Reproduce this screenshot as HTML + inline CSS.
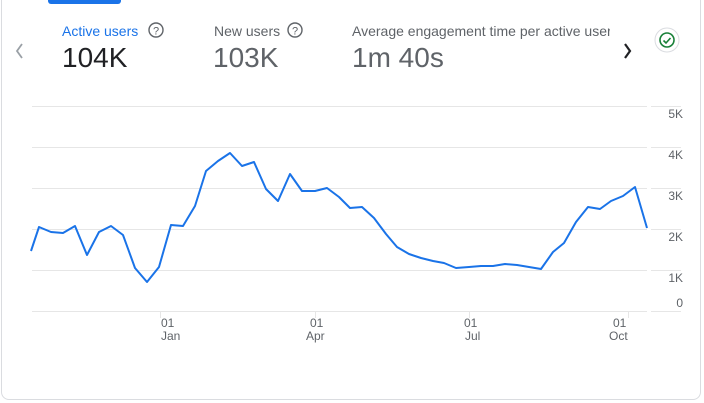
<!DOCTYPE html>
<html><head><style>
body{margin:0;width:704px;height:403px;background:#fff;font-family:"Liberation Sans",Arial,sans-serif;overflow:hidden}
.card{position:absolute;left:1px;top:-8px;width:700px;height:408px;border:1px solid #dadce0;border-radius:8px;box-sizing:border-box}
.t{position:absolute;white-space:nowrap}
</style></head><body>
<div class="card"></div>
<div style="position:absolute;left:48px;top:0;width:73px;height:4px;background:#1a73e8;border-radius:0 0 3px 3px"></div>
<div class="t" style="left:62px;top:23px;font-size:14px;color:#1a73e8">Active users</div>
<div class="t" style="left:214px;top:23px;font-size:14px;color:#5f6368">New users</div>
<div class="t" style="left:352px;top:23px;font-size:14px;color:#5f6368;width:258px;overflow:hidden">Average engagement time per active user</div>
<div class="t" style="left:62px;top:42px;font-size:28px;color:#202124">104K</div>
<div class="t" style="left:213px;top:42px;font-size:28px;color:#5f6368">103K</div>
<div class="t" style="left:352px;top:42px;font-size:28px;color:#5f6368">1m 40s</div>
<svg width="704" height="403" style="position:absolute;left:0;top:0">
<g fill="none" stroke="#5f6368" stroke-width="1.4">
<circle cx="156" cy="30" r="7"/><circle cx="295" cy="30" r="7"/></g>
<text x="156" y="34.5" font-size="11" text-anchor="middle" fill="#5f6368" font-family="Liberation Sans">?</text>
<text x="295" y="34.5" font-size="11" text-anchor="middle" fill="#5f6368" font-family="Liberation Sans">?</text>
<path d="M22 44l-5 7 5 7" stroke="#9aa0a6" stroke-width="1.8" fill="none"/>
<path d="M625 44l5 7-5 7" stroke="#202124" stroke-width="2.2" fill="none"/>
<circle cx="667" cy="40" r="12" fill="#fff" stroke="#dadce0"/>
<circle cx="667" cy="40" r="7" fill="none" stroke="#188038" stroke-width="1.6"/>
<path d="M663.5 40.5l2.5 2.5 4.5-5" stroke="#188038" stroke-width="1.6" fill="none"/>
<g stroke="#e6e6e6" stroke-width="1">
<path d="M32 106.5H647M32 147.5H647M32 188.5H647M32 229.5H647M32 270.5H647M32 311.5H647"/>
<path d="M651 106.5H681M651 147.5H681M651 188.5H681M651 229.5H681M651 270.5H681M651 311.5H681"/>
<path d="M160.5 311V318M315.5 311V318M469.5 311V318M628.5 311V318"/>
</g>
<g font-size="12" fill="#5f6368" font-family="Liberation Sans" text-anchor="end">
<text x="683" y="118">5K</text><text x="683" y="159">4K</text><text x="683" y="200">3K</text><text x="683" y="241">2K</text><text x="683" y="282">1K</text><text x="683" y="307">0</text>
</g>
<g font-size="12" fill="#5f6368" font-family="Liberation Sans">
<text x="161" y="327">01</text><text x="161" y="340">Jan</text>
<text x="310" y="327">01</text><text x="306" y="340">Apr</text>
<text x="464" y="327">01</text><text x="465" y="340">Jul</text>
<text x="613" y="327">01</text><text x="609" y="340">Oct</text>
</g>
<polyline fill="none" stroke="#1a73e8" stroke-width="2" stroke-linejoin="round" points="31,251 39,227 51,232 63,233 75,226 87,255 99,232 111,226 123,235 135,268 147,282 159,267 171,225 183,226 195,206 206,171 218,161 230,153 242,166 254,162 266,189 278,201 290,174 302,191 315,191 327,188 339,197 350,208 362,207 374,218 386,234 397,247 409,254 421,258 433,261 444,263 456,268 469,267 481,266 493,266 505,264 517,265 529,267 541,269 553,252 564,243 576,222 588,207 600,209 611,201 623,196 635,187 647,228"/>
</svg>
</body></html>
